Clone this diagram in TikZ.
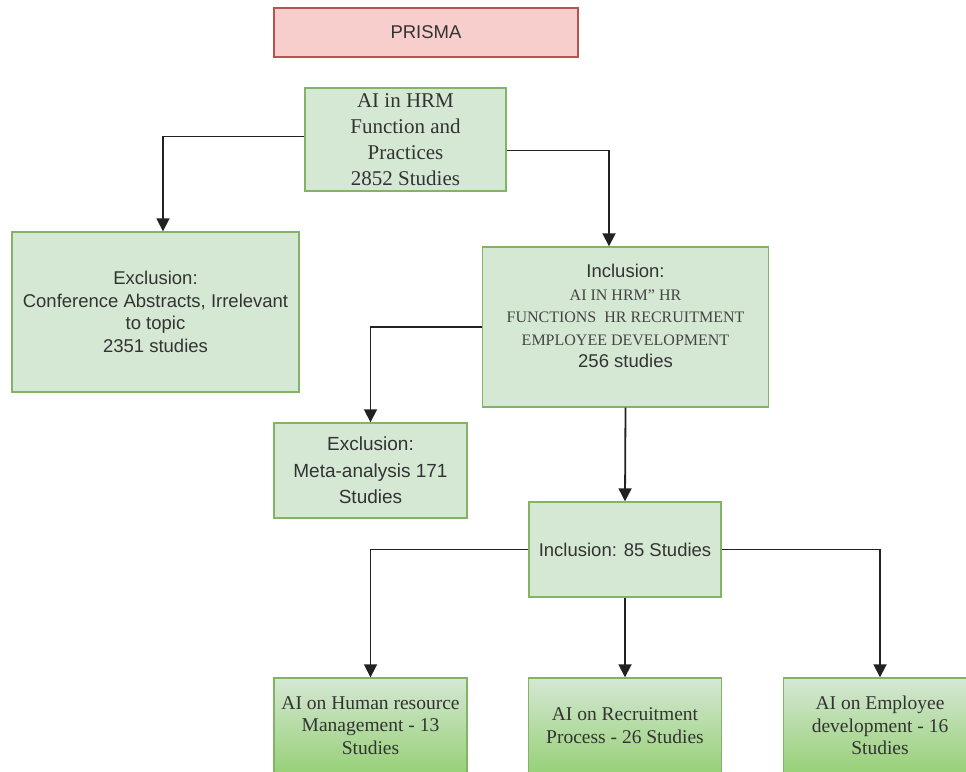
\documentclass[tikz,border=0pt]{standalone}
\usepackage{fontspec}
\setmainfont{Liberation Serif}
\setsansfont{Liberation Sans}
\usetikzlibrary{arrows.meta}
\definecolor{gfill}{HTML}{D5E8D4}
\definecolor{gline}{HTML}{82B366}
\definecolor{gdark}{HTML}{97D077}
\definecolor{rfill}{HTML}{F8CECC}
\definecolor{rline}{HTML}{B85450}
\definecolor{txt}{HTML}{333333}
\definecolor{capt}{HTML}{444444}
\definecolor{wire}{HTML}{222222}
\begin{document}
\begin{tikzpicture}[x=1pt,y=-1pt,
  gbox/.style={draw=gline, fill=gfill, line width=1.4pt, inner sep=0pt, align=center, text=txt},
  sansf/.style={font=\fontsize{18.5}{22.5}\selectfont\sffamily},
  seriff/.style={font=\fontsize{21}{26}\selectfont\rmfamily},
  botbox/.style={draw=gline, line width=1.4pt, top color=gfill, bottom color=gdark, inner sep=0pt, align=center, text=txt,
     minimum width=193pt, minimum height=95pt, font=\fontsize{19.5}{22.5}\selectfont\rmfamily},
  conn/.style={draw=wire, line width=1.8pt, -{Triangle[width=13pt,length=13pt]}}]
\useasboundingbox (0,0) rectangle (966,771);
\clip (0,0) rectangle (966,771);
\fill[white] (0,0) rectangle (966,771);

\node[draw=rline, fill=rfill, line width=1.4pt, minimum width=304pt, minimum height=49pt, inner sep=0pt,
  font=\fontsize{18.5}{22}\selectfont\sffamily, text=txt] (prisma) at (426,32.5) {PRISMA};

\node[gbox, seriff, minimum width=201pt, minimum height=103pt] (top) at (405.5,139.5)
  {AI in HRM\\Function and\\Practices\\2852 Studies};

\node[gbox, sansf, minimum width=287pt, minimum height=160pt] (excl1) at (155.5,312)
  {Exclusion:\\Conference Abstracts, Irrelevant\\to topic\\2351 studies};

\node[gbox, minimum width=286pt, minimum height=160pt,
  label={[yshift=11pt, align=center, text=txt, font=\fontsize{18.5}{22.5}\selectfont\sffamily]center:{Inclusion:\\
  {\fontsize{16}{22.5}\selectfont\rmfamily\color{capt}AI IN HRM” HR}\\
  {\fontsize{16}{22.5}\selectfont\rmfamily\color{capt}FUNCTIONS\ \ HR RECRUITMENT}\\
  {\fontsize{16}{22.5}\selectfont\rmfamily\color{capt}EMPLOYEE DEVELOPMENT}\\
  256 studies}}] (incl) at (625.5,327) {};

\node[gbox, font=\fontsize{19}{26.5}\selectfont\sffamily, minimum width=193pt, minimum height=95pt] (meta) at (370.5,470.5)
  {Exclusion:\\Meta-analysis 171\\Studies};

\node[gbox, sansf, minimum width=192pt, minimum height=95pt] (in85) at (625,549.5)
  {Inclusion: 85 Studies};

\node[botbox] (hrm) at (370.5,725.5) {AI on Human resource\\Management - 13\\Studies};
\node[botbox] (rec) at (625,725.5) {AI on Recruitment\\Process - 26 Studies};
\node[botbox] (emp) at (880,725.5) {AI on Employee\\development - 16\\Studies};

% connectors
\draw[conn] ([yshift=3pt]top.west) -| ([xshift=7.5pt]excl1.north);
\draw[conn] ([yshift=-11pt]top.east) -| ([xshift=-16.5pt]incl.north);
\draw[conn] (incl.west) -| (meta.north);
\draw[conn] (incl.south) -- (in85.north);
\draw[conn] (in85.west) -| (hrm.north);
\draw[conn] (in85.south) -- (rec.north);
\draw[conn] (in85.east) -| (emp.north);
\end{tikzpicture}
\end{document}
